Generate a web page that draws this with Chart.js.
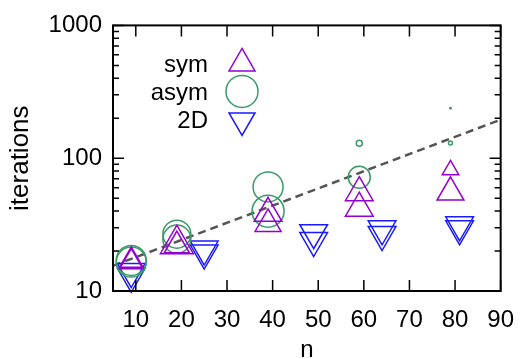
<!DOCTYPE html>
<html>
<head>
<meta charset="utf-8">
<script src="https://cdn.jsdelivr.net/npm/chart.js@4.4.1/dist/chart.umd.min.js"></script>
<style>
  body { margin: 0; background: #fff; }
  #wrap { width: 529px; height: 359px; }
</style>
</head>
<body>
<div id="wrap"><canvas id="iterChart" width="529" height="359"></canvas></div>
<script>
// values
const symN = [9, 9, 19, 19, 39, 39, 59, 59, 79, 79];
const symIter = [17, 16.5, 22.5, 22, 38.5, 32, 55, 42, 81.6, 55.4];
const symSize = [13.5, 13.5, 19, 14.5, 16, 15, 16, 16, 9.5, 15.5];

const asymN = [9, 9, 19, 19, 39, 39, 59, 59, 79, 79];
const asymIter = [17, 16.5, 26.8, 24.6, 60.8, 39.9, 129.7, 71.9, 130, 238];
const asymSize = [15, 15, 14, 14, 15, 16, 3, 11, 2, 0.7];

const twoDN = [9, 9, 25, 25, 49, 49, 64, 64, 81, 81];
const twoDIter = [14, 12.9, 20.7, 19.3, 27.5, 24, 29.4, 26.6, 31.5, 29.4];
const twoDSize = [16, 16, 16, 16, 16, 16, 16, 16, 16, 16];

const fitN = [5, 90];
const fitIter = [15.5, 195];

const xTicks = [10, 20, 30, 40, 50, 60, 70, 80, 90];
const yTicks = [10, 100, 1000];
const yMinorTicks = [20, 30, 40, 50, 60, 70, 80, 90, 200, 300, 400, 500, 600, 700, 800, 900];

const FONT = '"Liberation Sans", Arial, sans-serif';
const symColor = '#9400d3';
const asymColor = '#3a9a68';
const twoDColor = '#1a1aff';

const toPts = (xs, ys) => xs.map((n, i) => ({ x: n, y: ys[i] }));

// gnuplot-like frame with ticks pointing inward
const frameTicks = {
  id: 'frameTicks',
  afterDraw(chart) {
    const { ctx, chartArea: a, scales: { x, y } } = chart;
    ctx.save();
    ctx.strokeStyle = '#000';
    ctx.lineWidth = 1.5;
    ctx.beginPath();
    xTicks.forEach(v => {
      const px = x.getPixelForValue(v);
      ctx.moveTo(px, a.bottom); ctx.lineTo(px, a.bottom - 11);
      ctx.moveTo(px, a.top); ctx.lineTo(px, a.top + 11);
    });
    yTicks.forEach(v => {
      const py = y.getPixelForValue(v);
      ctx.moveTo(a.left, py); ctx.lineTo(a.left + 11, py);
      ctx.moveTo(a.right, py); ctx.lineTo(a.right - 11, py);
    });
    yMinorTicks.forEach(v => {
      const py = y.getPixelForValue(v);
      ctx.moveTo(a.left, py); ctx.lineTo(a.left + 6, py);
      ctx.moveTo(a.right, py); ctx.lineTo(a.right - 6, py);
    });
    ctx.stroke();
    ctx.lineWidth = 2;
    ctx.strokeRect(a.left, a.top, a.width, a.height);
    ctx.restore();
  }
};

// key in the upper left: label on the left, marker on the right
const keyBox = {
  id: 'keyBox',
  afterDraw(chart) {
    const { ctx, chartArea: a } = chart;
    const rows = [
      { text: 'sym', color: symColor, style: 'triangle', rot: 0, r: 15, dy: 38 },
      { text: 'asym', color: asymColor, style: 'circle', rot: 0, r: 16, dy: 66 },
      { text: '2D', color: twoDColor, style: 'triangle', rot: 180, r: 15, dy: 95 }
    ];
    ctx.save();
    ctx.font = '24px ' + FONT;
    ctx.textAlign = 'right';
    ctx.textBaseline = 'middle';
    rows.forEach((row, i) => {
      const ty = a.top + 40 + i * 28;
      ctx.fillStyle = '#000';
      ctx.fillText(row.text, a.left + 95, ty);
      ctx.strokeStyle = row.color;
      ctx.fillStyle = 'rgba(0,0,0,0)';
      ctx.lineWidth = 1.5;
      Chart.helpers.drawPoint(ctx, {
        pointStyle: row.style, rotation: row.rot, radius: row.r, borderWidth: 1.5
      }, a.left + 129, a.top + row.dy);
    });
    ctx.restore();
  }
};

const markerSet = (label, xs, ys, sizes, color, rot) => ({
  label,
  data: toPts(xs, ys),
  showLine: false,
  pointStyle: rot === null ? 'circle' : 'triangle',
  rotation: rot || 0,
  pointRadius: c => sizes[c.dataIndex],
  pointHoverRadius: c => sizes[c.dataIndex],
  pointBorderWidth: 1.5,
  borderColor: color,
  backgroundColor: 'rgba(0,0,0,0)',
  clip: false
});

new Chart(document.getElementById('iterChart'), {
  type: 'scatter',
  data: {
    datasets: [
      markerSet('sym', symN, symIter, symSize, symColor, 0),
      markerSet('asym', asymN, asymIter, asymSize, asymColor, null),
      markerSet('2D', twoDN, twoDIter, twoDSize, twoDColor, 180),
      {
        label: 'fit',
        data: toPts(fitN, fitIter),
        showLine: true,
        borderColor: '#555555',
        borderWidth: 2.5,
        borderDash: [8, 5],
        pointRadius: 0,
        fill: false
      }
    ]
  },
  options: {
    responsive: false,
    animation: false,
    layout: { padding: { top: 18, right: 21, left: 0, bottom: 0 } },
    plugins: { legend: { display: false }, tooltip: { enabled: false } },
    scales: {
      x: {
        type: 'linear',
        min: 5,
        max: 90,
        afterBuildTicks: s => { s.ticks = xTicks.map(v => ({ value: v })); },
        afterFit: s => { s.height = 68; },
        grid: { display: false, drawTicks: false },
        border: { display: false },
        ticks: { color: '#000', padding: 15, font: { family: FONT, size: 24 }, maxRotation: 0 },
        title: { display: true, text: 'n', color: '#000', padding: 0, font: { family: FONT, size: 24, lineHeight: 0.75 } }
      },
      y: {
        type: 'logarithmic',
        min: 10,
        max: 1000,
        afterBuildTicks: s => { s.ticks = yTicks.map(v => ({ value: v })); },
        afterFit: s => { s.width = 113; },
        grid: { display: false, drawTicks: false },
        border: { display: false },
        ticks: { color: '#000', padding: 11, font: { family: FONT, size: 24 }, callback: v => String(v) },
        title: { display: true, text: 'iterations', color: '#000', padding: { top: 5, bottom: 0 }, font: { family: FONT, size: 26 } }
      }
    }
  },
  plugins: [frameTicks, keyBox]
});
</script>
</body>
</html>
